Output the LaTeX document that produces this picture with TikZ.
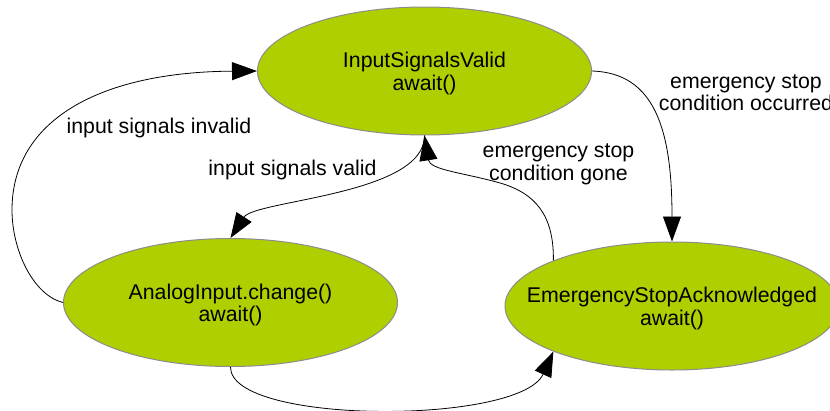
\documentclass[tikz,border=0pt]{standalone}
\usepackage{fontspec}
\setmainfont{Liberation Sans}
\usetikzlibrary{shapes.geometric,arrows.meta}
\definecolor{statefill}{RGB}{176,207,0}
\definecolor{stateline}{RGB}{140,140,140}
\begin{document}
\begin{tikzpicture}[x=1pt,y=-1pt,
  state/.style={ellipse, draw=stateline, line width=1pt, fill=statefill,
    minimum width=334pt, minimum height=128pt, inner sep=0pt},
  statetext/.style={align=center, inner sep=0pt, font=\fontsize{21.3}{22.5}\selectfont},
  edgelabel/.style={align=center, inner sep=0pt, font=\fontsize{21.3}{22.5}\selectfont},
  trans/.style={line width=0.8pt, -{Triangle[length=25pt,width=18pt]}}]
\useasboundingbox (0,0) rectangle (830,410);

% states
\node[state] (isv) at (424.5,71) {};
\node[state] (ai)  at (230.5,302.5) {};
\node[state] (esa) at (672,306) {};
\node[statetext] (isv-text) at ([yshift=-2.5pt]isv.center) {InputSignalsValid\\await()};
\node[statetext] (ai-text)  at ([yshift=-2.5pt]ai.center) {AnalogInput.change()\\await()};
\node[statetext] (esa-text) at ([yshift=-2.5pt]esa.center) {EmergencyStopAcknowledged\\await()};

% transitions
\draw[trans] (ai.west) .. controls (33,295) and (12,250) .. (12,210)
             .. controls (12,120) and (100,72) .. (isv.west);
\draw[trans] (isv.south) .. controls (425,195) and (255,200) .. (ai.north);
\draw[trans] (esa.159) .. controls (554,215) and (535,193) .. (500,183)
             .. controls (465,173) and (430,170) .. (isv.south);
\draw[trans] (isv.east) .. controls (655,73) and (672,130) .. (esa.north);
\draw[trans] (ai.south) .. controls (230,425) and (520,425) .. (esa.201);

% transition labels
\node[edgelabel] (l-invalid) at (159,127.5) {input signals invalid};
\node[edgelabel] (l-valid)   at (292.5,169.5) {input signals valid};
\node[edgelabel] (l-gone)    at (558.5,164.5) {emergency stop\\condition gone};
\node[edgelabel] (l-occ)     at (746,92.5) {emergency stop\\condition occurred};
\end{tikzpicture}
\end{document}
